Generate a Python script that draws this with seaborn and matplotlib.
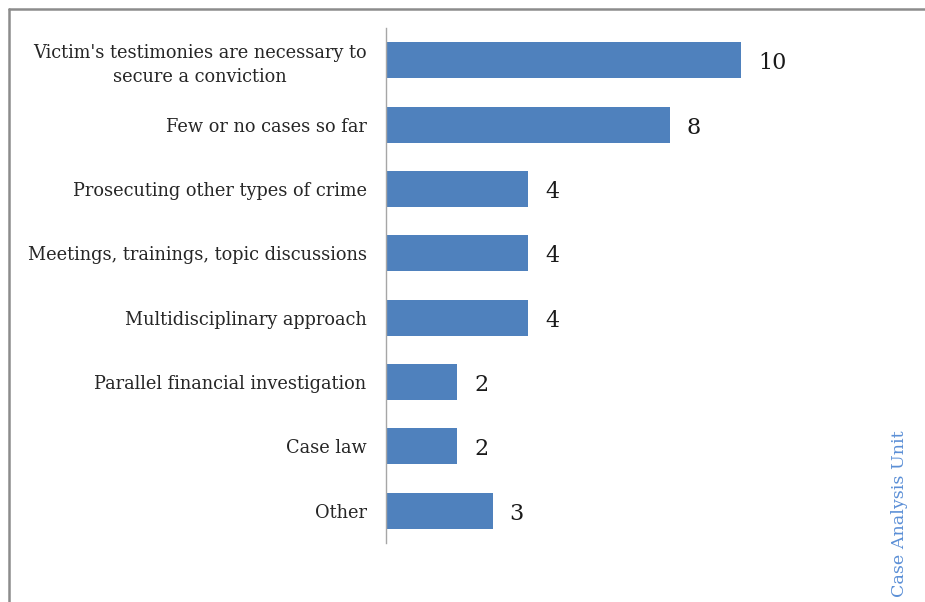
import matplotlib
matplotlib.use("Agg")
import matplotlib.pyplot as plt
import seaborn as sns
import pandas as pd
from matplotlib.lines import Line2D

categories = [
    "Victim's testimonies are necessary to\nsecure a conviction",
    "Few or no cases so far",
    "Prosecuting other types of crime",
    "Meetings, trainings, topic discussions",
    "Multidisciplinary approach",
    "Parallel financial investigation",
    "Case law",
    "Other",
]
values = [10, 8, 4, 4, 4, 2, 2, 3]

df = pd.DataFrame({"category": categories, "value": values})

sns.set_style("white")
plt.rcParams["font.family"] = ["DejaVu Serif"]

fig = plt.figure(figsize=(9.25, 6.02), dpi=100)
ax = fig.add_axes([386 / 925, 1 - 543 / 602, (918.5 - 386) / 925, (543 - 28) / 602])

sns.barplot(data=df, x="value", y="category", orient="h", color="#4F81BD",
            saturation=1, width=0.56, ax=ax, edgecolor="none")

ax.set_xlim(0, 15)
ax.set_ylim(len(categories) - 0.5, -0.5)
ax.set_xlabel("")
ax.set_ylabel("")
ax.set_xticks([])
for s in ["top", "right", "bottom"]:
    ax.spines[s].set_visible(False)
ax.spines["left"].set_color("#a6a6a6")
ax.spines["left"].set_linewidth(1)
ax.tick_params(axis="y", length=0, pad=14, labelsize=12.8, labelcolor="#262626")
for lab in ax.get_yticklabels():
    lab.set_multialignment("center")
    lab.set_linespacing(1.45)

for i, v in enumerate(values):
    ax.annotate(str(v), (v, i), xytext=(17, -3), textcoords="offset pixels",
                va="center", ha="left", fontsize=16, color="#1a1a1a")

fig.text(900 / 925, 1 - 597 / 602, "Case Analysis Unit", rotation=90, ha="center", va="bottom",
         fontsize=12.6, color="#5B8FD6")

# border lines
fig.add_artist(Line2D([9 / 925, 9 / 925], [0, 1 - 9 / 602], color="#8c8c8c", linewidth=1.8,
                      transform=fig.transFigure))
fig.add_artist(Line2D([9 / 925, 1], [1 - 9 / 602, 1 - 9 / 602], color="#8c8c8c", linewidth=1.8,
                      transform=fig.transFigure))

fig.savefig("out.png", dpi=100)
